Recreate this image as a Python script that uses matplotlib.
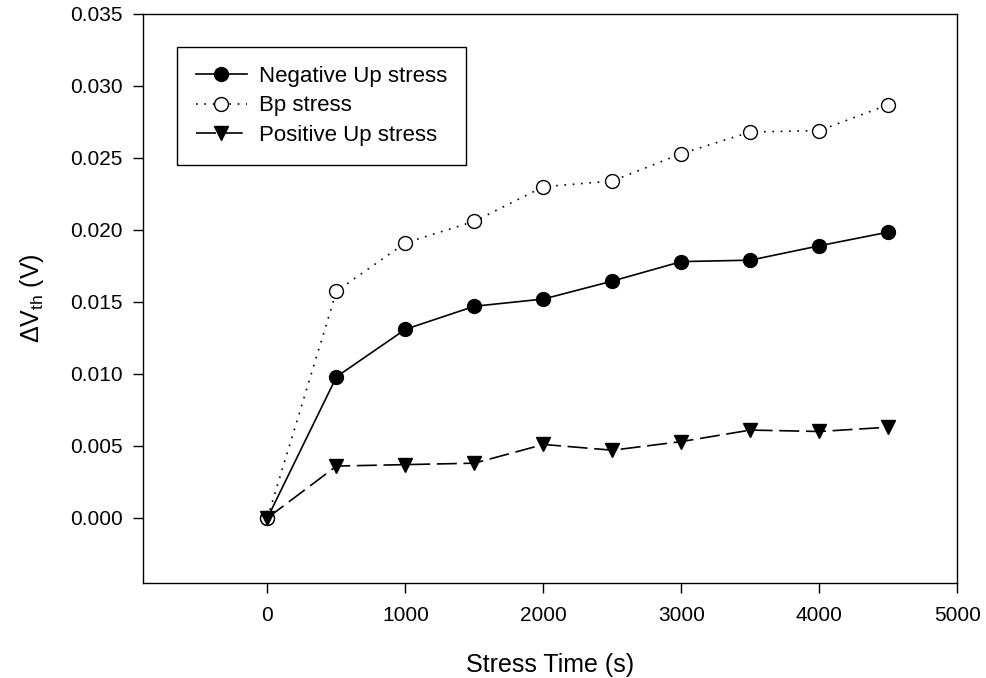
import matplotlib
matplotlib.use("Agg")
import matplotlib.pyplot as plt

plt.rcParams['font.family'] = ['Liberation Sans', 'DejaVu Sans']
plt.rcParams['mathtext.fontset'] = 'custom'
plt.rcParams['mathtext.rm'] = 'Liberation Sans'
plt.rcParams['mathtext.it'] = 'Liberation Sans:italic'

time_s = [0, 500, 1000, 1500, 2000, 2500, 3000, 3500, 4000, 4500]
negative_up = [0.0, 0.0098, 0.0131, 0.0147, 0.0152, 0.01645, 0.0178, 0.0179, 0.0189, 0.01985]
bp_stress = [0.0, 0.01575, 0.0191, 0.0206, 0.0230, 0.0234, 0.0253, 0.0268, 0.0269, 0.0287]
positive_up = [0.0, 0.0036, 0.0037, 0.0038, 0.0051, 0.0047, 0.0053, 0.0061, 0.0060, 0.0063]

series_labels = ["Negative Up stress", "Bp stress", "Positive Up stress"]
x_ticks = [0, 1000, 2000, 3000, 4000, 5000]
y_ticks = [0.000, 0.005, 0.010, 0.015, 0.020, 0.025, 0.030, 0.035]

fig = plt.figure(figsize=(9.87, 6.78), dpi=100)
ax = fig.add_axes([0.1452, 0.1406, 0.8248, 0.8388])

ax.plot(time_s, negative_up, color='black', lw=1.2, linestyle='-', marker='o',
        markersize=10, markerfacecolor='black', markeredgecolor='black', label=series_labels[0])
ax.plot(time_s, bp_stress, color='black', lw=1.2, linestyle=(0, (1, 4)), marker='o',
        markersize=10, markerfacecolor='white', markeredgecolor='black', markeredgewidth=1.0,
        label=series_labels[1])
ax.plot(time_s, positive_up, color='black', lw=1.2, linestyle=(0, (12, 4)), marker='v',
        markersize=10, markerfacecolor='black', markeredgecolor='black', label=series_labels[2])

ax.set_xlim(-900, 5000)
ax.set_ylim(-0.0045, 0.035)
ax.set_xticks(x_ticks)
ax.set_yticks(y_ticks)
ax.set_xticklabels([str(v) for v in x_ticks])
ax.set_yticklabels([f"{v:.3f}" for v in y_ticks])
ax.tick_params(axis='both', which='both', direction='out', length=7, width=1,
               labelsize=15, top=False, right=False)
ax.tick_params(axis='x', pad=10)
ax.tick_params(axis='y', pad=8)
for sp in ax.spines.values():
    sp.set_linewidth(1.0)

ax.set_xlabel("Stress Time (s)", fontsize=18, labelpad=20)
ax.set_ylabel(r"$\Delta$V$_{\mathrm{th}}$ (V)", fontsize=18, labelpad=17)

leg = ax.legend(loc='upper left', bbox_to_anchor=(0.0414, 0.942), borderaxespad=0,
                fancybox=False, edgecolor='black', framealpha=1, fontsize=16,
                handlelength=2.3, borderpad=0.85, labelspacing=0.38, handletextpad=0.55)
leg.get_frame().set_linewidth(1.0)

fig.savefig("out.png", dpi=100)
